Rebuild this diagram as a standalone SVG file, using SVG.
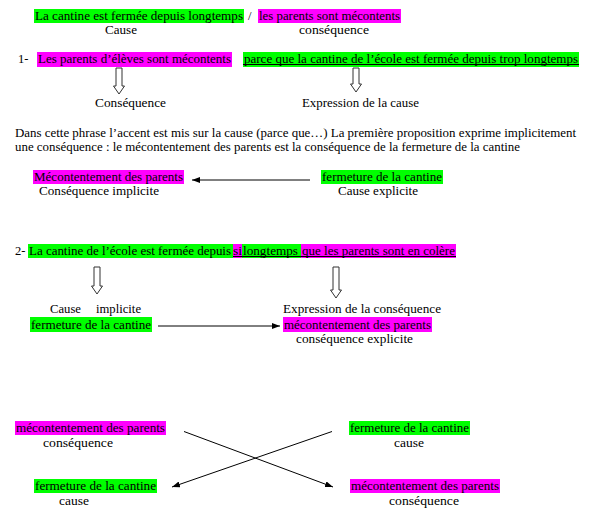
<svg xmlns="http://www.w3.org/2000/svg" width="596" height="518" viewBox="0 0 596 518">
<style>
text{font-family:"Liberation Serif","Times New Roman",serif;font-size:12.5px;fill:#000;}
.g{fill:#00ff00;}
.m{fill:#ff00ff;}
.ul{stroke:#000;stroke-width:1;}
.hol{fill:#fff;stroke:#333;stroke-width:1;}
.con{stroke:#000;stroke-width:1;fill:none;marker-end:url(#ah);}
</style>
<defs>
<marker id="ah" markerWidth="8" markerHeight="6" refX="8" refY="3" orient="auto" markerUnits="userSpaceOnUse">
<path d="M0,0 L8,3 L0,6 Z" fill="#000"/>
</marker>
</defs>
<rect width="596" height="518" fill="#fff"/>

<g id="top-cause">
<rect class="g" x="34" y="9" width="210" height="14"/>
<text x="35" y="19.5" textLength="208" lengthAdjust="spacingAndGlyphs">La cantine est fermée depuis  longtemps</text>
<text x="105" y="33.5" textLength="32" lengthAdjust="spacingAndGlyphs">Cause</text>
</g>
<text id="slash" x="248" y="19.5">/</text>
<g id="top-consequence">
<rect class="m" x="258" y="9" width="143" height="14"/>
<text x="259" y="19.5" textLength="141" lengthAdjust="spacingAndGlyphs">les parents sont mécontents</text>
<text x="299" y="33.5" textLength="70" lengthAdjust="spacingAndGlyphs">conséquence</text>
</g>

<g id="ex1-consequence">
<text x="18" y="63">1-</text>
<rect class="m" x="37" y="52" width="195" height="15"/>
<text x="38" y="63" textLength="193" lengthAdjust="spacingAndGlyphs">Les parents d’élèves sont mécontents</text>
<text x="95" y="107" textLength="71" lengthAdjust="spacingAndGlyphs">Conséquence</text>
</g>
<g id="ex1-cause">
<rect class="g" x="243" y="52" width="336" height="15"/>
<text x="244" y="63" textLength="334" lengthAdjust="spacingAndGlyphs">parce que  la cantine de l’école est fermée depuis trop longtemps</text>
<line class="ul" x1="243" y1="64.5" x2="579" y2="64.5"/>
<text x="302" y="107" textLength="117" lengthAdjust="spacingAndGlyphs">Expression de la cause</text>
</g>

<g id="paragraph">
<text x="15" y="137" textLength="561" lengthAdjust="spacingAndGlyphs">Dans cette phrase l’accent est mis sur la cause (parce que…) La première proposition exprime implicitement</text>
<text x="15" y="151" textLength="505" lengthAdjust="spacingAndGlyphs">une conséquence : le mécontentement des parents est la conséquence de la fermeture de la cantine</text>
</g>

<g id="r1-consequence">
<rect class="m" x="33" y="170" width="151" height="14"/>
<text x="34" y="181" textLength="149" lengthAdjust="spacingAndGlyphs">Mécontentement des parents</text>
<text x="39" y="195" textLength="120" lengthAdjust="spacingAndGlyphs">Conséquence implicite</text>
</g>
<g id="r1-cause">
<rect class="g" x="321" y="170" width="122" height="14"/>
<text x="322" y="181" textLength="120" lengthAdjust="spacingAndGlyphs">fermeture de la cantine</text>
<text x="338" y="195" textLength="80" lengthAdjust="spacingAndGlyphs">Cause explicite</text>
</g>

<g id="ex2">
<text x="15" y="255">2-</text>
<rect class="g" x="28" y="244" width="273" height="14"/>
<rect class="m" x="233" y="244" width="9" height="14"/>
<rect class="m" x="301" y="244" width="155" height="14"/>
<text x="29" y="255" textLength="202" lengthAdjust="spacingAndGlyphs">La cantine de l’école est fermée depuis</text>
<text x="233" y="255" textLength="9" lengthAdjust="spacingAndGlyphs">si</text>
<text x="243" y="255" textLength="55" lengthAdjust="spacingAndGlyphs">longtemps</text>
<text x="302" y="255" textLength="153" lengthAdjust="spacingAndGlyphs">que les parents sont  en colère</text>
<line class="ul" x1="233" y1="256.5" x2="456" y2="256.5"/>
</g>

<g id="r2-cause">
<text x="50" y="313"><tspan textLength="31" lengthAdjust="spacingAndGlyphs">Cause</tspan><tspan x="96" textLength="45" lengthAdjust="spacingAndGlyphs">implicite</tspan></text>
<rect class="g" x="30" y="317" width="122" height="15"/>
<text x="31" y="328.5" textLength="120" lengthAdjust="spacingAndGlyphs">fermeture de la cantine</text>
</g>
<g id="r2-consequence">
<text x="283" y="313" textLength="158" lengthAdjust="spacingAndGlyphs">Expression de la  conséquence</text>
<rect class="m" x="283" y="317" width="149" height="15"/>
<text x="284" y="328.5" textLength="147" lengthAdjust="spacingAndGlyphs">mécontentement des parents</text>
<text x="296" y="342.5" textLength="117" lengthAdjust="spacingAndGlyphs">conséquence explicite</text>
</g>

<g id="b-tl">
<rect class="m" x="15" y="421" width="151" height="14"/>
<text x="16" y="432" textLength="149" lengthAdjust="spacingAndGlyphs">mécontentement des parents</text>
<text x="43" y="447" textLength="70" lengthAdjust="spacingAndGlyphs">conséquence</text>
</g>
<g id="b-tr">
<rect class="g" x="349" y="421" width="121" height="14"/>
<text x="350" y="432" textLength="119" lengthAdjust="spacingAndGlyphs">fermeture de la cantine</text>
<text x="394" y="447" textLength="30" lengthAdjust="spacingAndGlyphs">cause</text>
</g>
<g id="b-bl">
<rect class="g" x="34" y="479" width="123" height="14"/>
<text x="35" y="490" textLength="121" lengthAdjust="spacingAndGlyphs">fermeture de la cantine</text>
<text x="59" y="505" textLength="30" lengthAdjust="spacingAndGlyphs">cause</text>
</g>
<g id="b-br">
<rect class="m" x="350" y="479" width="150" height="14"/>
<text x="351" y="490" textLength="148" lengthAdjust="spacingAndGlyphs">mécontentement des parents</text>
<text x="389" y="505" textLength="70" lengthAdjust="spacingAndGlyphs">conséquence</text>
</g>

<g id="connectors">
<polygon class="hol" points="116,68 122,68 122,86 124.5,86 119,94 113.5,86 116,86"/>
<polygon class="hol" points="353,68 359,68 359,84 361.5,84 356,92 350.5,84 353,84"/>
<polygon class="hol" points="94,267 100,267 100,286 102.5,286 97,294 91.5,286 94,286"/>
<polygon class="hol" points="333,267 339,267 339,290 341.5,290 336,298 330.5,290 333,290"/>
<line class="con" x1="310" y1="180" x2="192" y2="180"/>
<line class="con" x1="158" y1="326" x2="280" y2="326"/>
<line class="con" x1="184" y1="431.5" x2="333" y2="487"/>
<line class="con" x1="332" y1="431.5" x2="172" y2="487"/>
</g>
</svg>
